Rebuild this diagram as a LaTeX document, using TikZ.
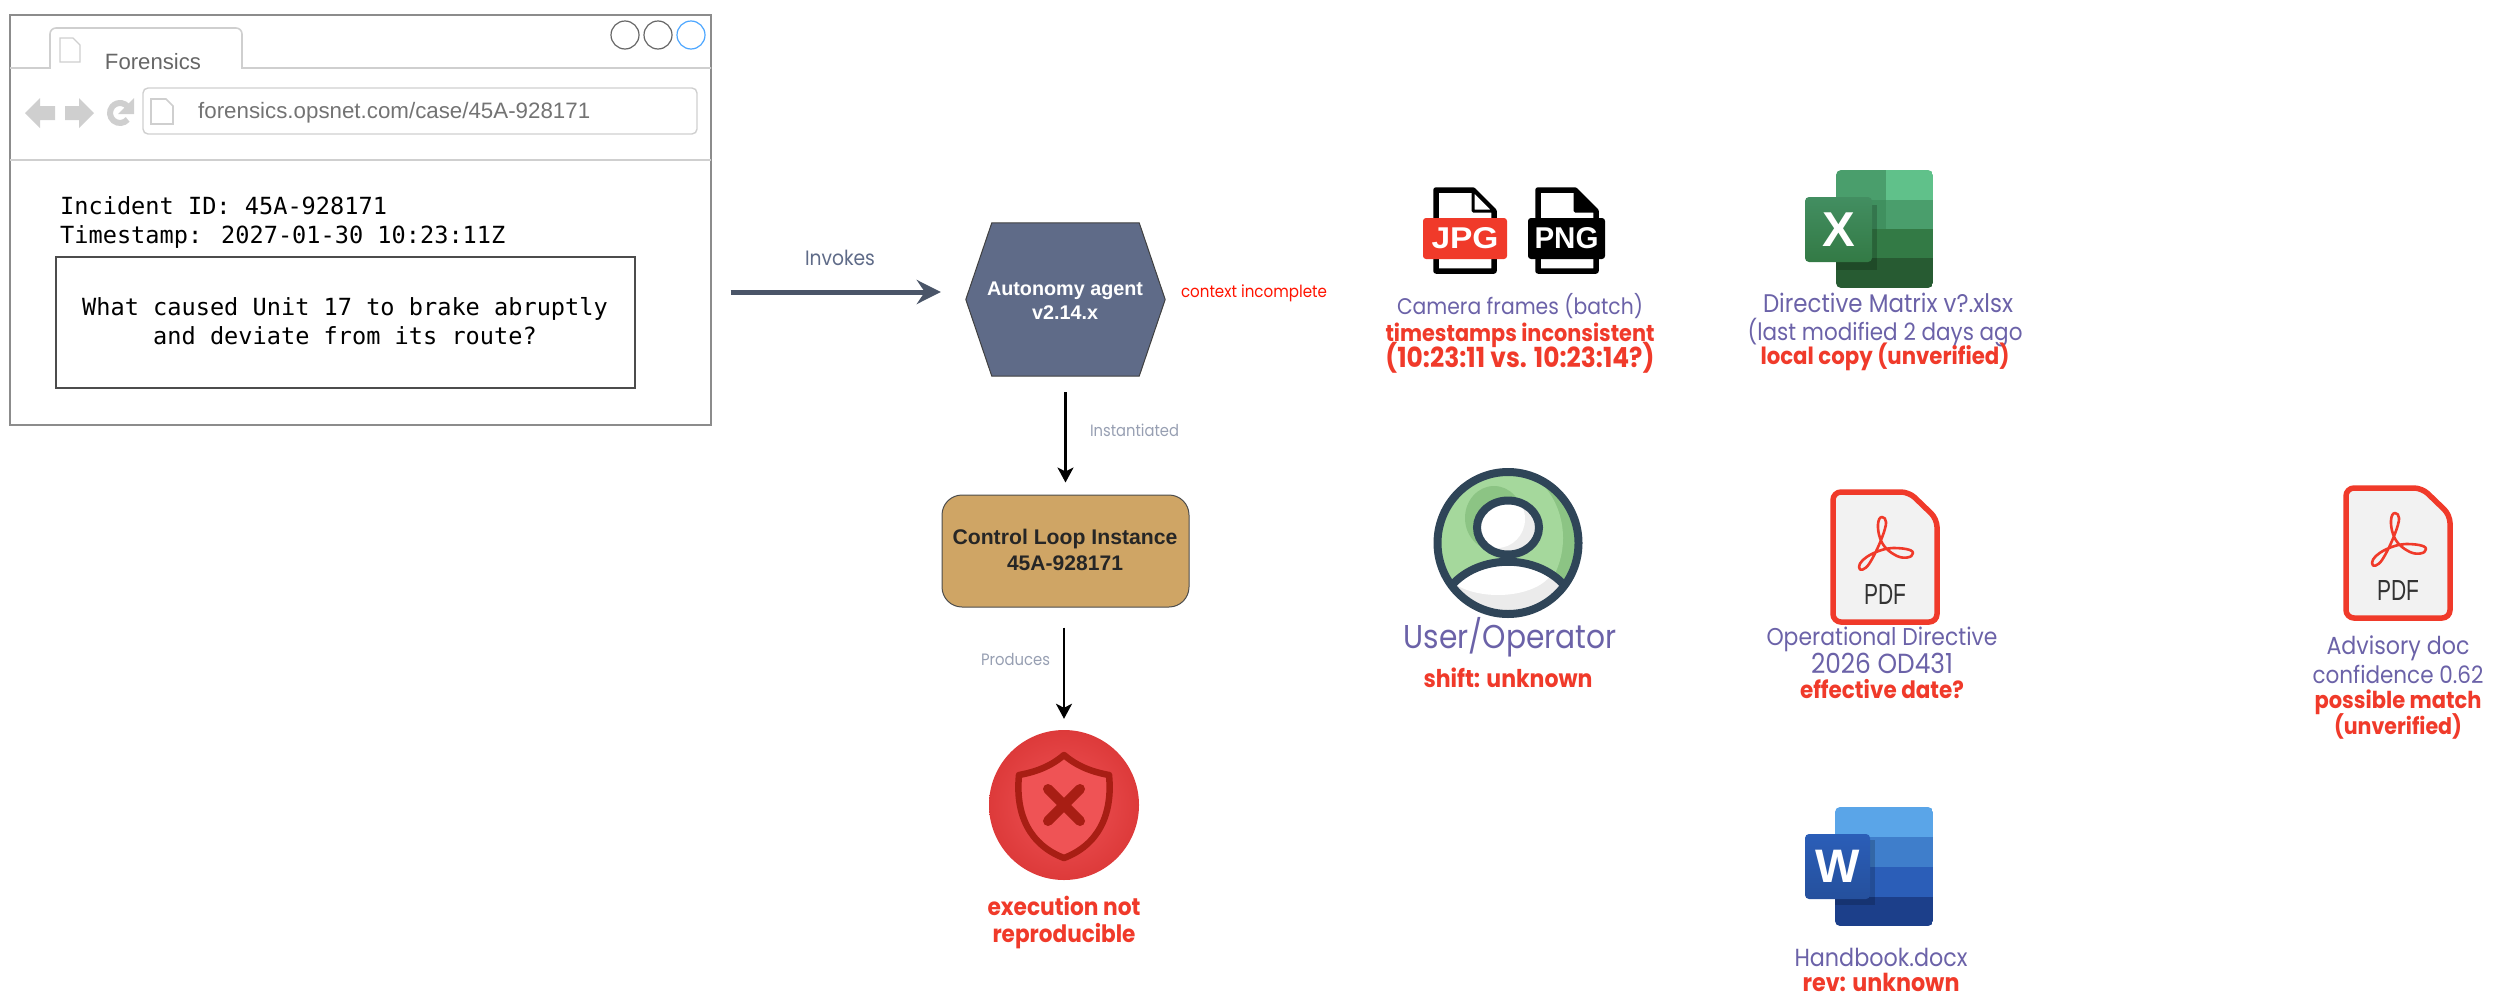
\documentclass[tikz,border=0pt]{standalone}
\usepackage{fontspec}
\setmainfont{Liberation Sans}
\newfontfamily\fut[FakeStretch=0.9]{Poppins}
\newfontfamily\monof{DejaVu Sans Mono}
\usetikzlibrary{arrows.meta,calc}
\definecolor{purp}{HTML}{6B62A8}
\definecolor{redt}{HTML}{F03A2A}
\definecolor{slate}{HTML}{5F6B88}
\definecolor{greyl}{HTML}{CFCFCF}
\definecolor{greyb}{HTML}{8C8C8C}
\definecolor{darku}{HTML}{2F4558}
\definecolor{ctrlc}{HTML}{CFA565}
\definecolor{riski}{HTML}{F05558}
\definecolor{risko}{HTML}{DD3A3A}
\definecolor{shd}{HTML}{A81E14}
\definecolor{shf}{HTML}{EF5355}
\definecolor{invc}{HTML}{4A5568}
\definecolor{xa}{HTML}{4A9E6C}
\definecolor{xb}{HTML}{60C18A}
\definecolor{xc}{HTML}{40905F}
\definecolor{xd}{HTML}{337A45}
\definecolor{xe}{HTML}{275B32}
\definecolor{ug1}{HTML}{A5D89C}
\definecolor{ug2}{HTML}{8CC484}
\definecolor{wa}{HTML}{5AA5E8}
\definecolor{wb}{HTML}{3F7ECB}
\definecolor{wc}{HTML}{2B5EB8}
\definecolor{wd}{HTML}{1C3F8A}
\newcommand{\fw}[2]{\resizebox{#1pt}{!}{#2}}
\newcommand{\px}[1]{\fontsize{#1pt}{#1pt}\selectfont}
\tikzset{
  txt/.style={inner sep=0pt,anchor=base,text=purp},
  rtxt/.style={inner sep=0pt,anchor=base,text=redt},
  mono/.style={inner sep=0pt,anchor=base west,font=\monof\px{23.6}},
  flowarrow/.style={line width=2.6pt,-{Stealth[length=15pt,width=16pt,inset=4pt]}},
  greydoc/.style={draw=greyl,line width=1.6pt,fill=white},
  pics/pdficon/.style={code={
    \draw[draw=redt,line width=5.5pt,fill=black!5,rounded corners=8pt]
      (0,0) -- (76,0) -- (104,27) -- (104,130) -- (0,130) -- cycle;
    \draw[draw=redt,line width=2.6pt,line join=round]
      (49,25) .. controls (44,25) and (44,38) .. (47,46)
      .. controls (50,55) and (56,60) .. (64,64)
      .. controls (70,67) and (80,66) .. (80,61)
      .. controls (80,57) and (68,56) .. (60,56)
      .. controls (48,56) and (26,66) .. (26,75)
      .. controls (26,80) and (32,78) .. (36,72)
      .. controls (44,60) and (54,35) .. (53,30)
      .. controls (53,27) and (51,25) .. (49,25) -- cycle;
    \node[inner sep=0pt,anchor=base,text=black!80] (-label) at (52,112) {\resizebox{42pt}{20pt}{\px{28}PDF}};
  }},
  pics/fileicon/.style={code={
    \draw[line width=5.5pt,line join=round,fill=white]
      (0,0) -- (37,0) -- (58,21) -- (58,81) -- (0,81) -- cycle;
    \filldraw[fill=#1,line width=3pt,line join=round] (37,0) -- (58,21) -- (37,21) -- cycle;
  }}
}
\begin{document}
\begin{tikzpicture}[x=1pt,y=-1pt]
\useasboundingbox (0,0) rectangle (2500,1007);
% ---------- browser
\node[draw=greyb,line width=1.4pt,minimum width=701pt,minimum height=410pt,inner sep=0pt] (browser) at (360.5,220) {};
\draw[greyl,line width=1.6pt] (10,68) -- (50,68) [rounded corners=6pt] -- (50,28) -- (242,28) [sharp corners] -- (242,68) -- (711,68);
\draw[greyl,line width=1.2pt] (10,160) -- (711,160);
\draw[greydoc,line width=1.2pt] (60,38) -- (73,38) -- (80,45) -- (80,62) -- (60,62) -- cycle;
\node[inner sep=0pt,anchor=base,text=black!60] (tabtitle) at (153,69) {\fw{96}{\px{22}Forensics}};
\node[draw=black!60,line width=1.2pt,circle,minimum size=28pt,inner sep=0pt] (c1) at (625,35) {};
\node[draw=black!60,line width=1.2pt,circle,minimum size=28pt,inner sep=0pt] (c2) at (658,35) {};
\node[draw=blue!50!cyan!70,line width=1.2pt,circle,minimum size=28pt,inner sep=0pt] (c3) at (691,35) {};
\fill[greyl] (25,113) -- (40,98) -- (40,106) -- (55,106) -- (55,120) -- (40,120) -- (40,128) -- cycle;
\fill[greyl] (94,113) -- (79,98) -- (79,106) -- (65,106) -- (65,120) -- (79,120) -- (79,128) -- cycle;
\draw[greyl,line width=6pt] (120,113) ++(40:10) arc (40:320:10);
\fill[greyl] (134,98) -- (134,114) -- (118,114) -- cycle;
\node[draw=greyl,line width=1.4pt,rounded corners=5pt,minimum width=554pt,minimum height=46pt,inner sep=0pt] (urlbox) at (420,111) {};
\draw[greydoc] (151,99) -- (166,99) -- (173,106) -- (173,124) -- (151,124) -- cycle;
\node[inner sep=0pt,anchor=base west,text=black!55] (url) at (198,118) {\fw{392}{\px{22}forensics.opsnet.com/case/45A-928171}};
\node[mono] (incident) at (60,214) {Incident ID: 45A-928171};
\node[mono] (stamp) at (60,243) {Timestamp: 2027-01-30 10:23:11Z};
\node[draw=black!70,line width=1.8pt,minimum width=579pt,minimum height=131pt,inner sep=0pt] (qbox) at (345.5,322.5) {};
\node[inner sep=0pt,anchor=base,font=\monof\px{23.6}] (q1) at (345,315) {What caused Unit 17 to brake abruptly};
\node[inner sep=0pt,anchor=base,font=\monof\px{23.6}] (q2) at (345,344) {and deviate from its route?};
% ---------- flow
\coordinate (invy) at (0,292);
\node[minimum width=199pt,minimum height=153pt,inner sep=0pt] (hex) at (1065.5,299.5) {};
\filldraw[draw=black!75,line width=1pt,fill=slate] (hex.west) -- ([xshift=26pt]hex.north west) -- ([xshift=-26pt]hex.north east) -- (hex.east) -- ([xshift=-26pt]hex.south east) -- ([xshift=26pt]hex.south west) -- cycle;
\node[inner sep=0pt,anchor=base,text=white] (hex1) at (1065,295) {\fw{156}{\bfseries\px{20}Autonomy agent}};
\node[inner sep=0pt,anchor=base,text=white] (hex2) at (1065,319) {\fw{66}{\bfseries\px{20}v2.14.x}};
\node[draw=black!70,line width=1pt,fill=ctrlc,minimum width=247pt,minimum height=112pt,rounded corners=20pt,inner sep=0pt] (ctrl) at (1065.5,551) {} ;
\node[inner sep=0pt,anchor=base,text=black!85] (ctrl1) at (1065,544) {\fw{225}{\bfseries\px{22}Control Loop Instance}};
\node[inner sep=0pt,anchor=base,text=black!85] (ctrl2) at (1065,570) {\fw{116}{\bfseries\px{22}45A-928171}};
\node[circle,minimum size=150pt,inner sep=0pt,inner color=riski,outer color=risko] (risk) at (1064,805) {};
\draw[line width=6.5pt,draw=shd,fill=shf,line join=round]
  (1064,755) .. controls (1050,767) and (1035,772) .. (1019,775)
  .. controls (1015,815) and (1030,845) .. (1064,858)
  .. controls (1098,845) and (1113,815) .. (1109,775)
  .. controls (1093,772) and (1078,767) .. (1064,755) -- cycle;
\draw[line width=10pt,draw=shd,line cap=round] (1048,789) -- (1080,821);
\draw[line width=10pt,draw=shd,line cap=round] (1080,789) -- (1048,821);
\node[rtxt] (ex1) at (1064,915) {\fw{153}{\fut\bfseries\px{22}execution not}};
\node[rtxt] (ex2) at (1064,942) {\fw{143}{\fut\bfseries\px{22}reproducible}};
\draw[line width=5pt,draw=invc,-{Stealth[length=24pt,width=24pt,inset=8pt]}]
  ([xshift=19pt]browser.east |- invy) -- ([xshift=-25pt]hex.west |- invy);
\draw[flowarrow] ([yshift=-16pt]hex.south) -- ([yshift=12pt]ctrl.north);
\draw[flowarrow] ($(risk.north |- ctrl.south)+(0,20)$) -- ([yshift=11pt]risk.north);
\node[inner sep=0pt,anchor=base,text=slate] (invokes) at (840,265) {\fw{70}{\fut\px{20}Invokes}};
\node[inner sep=0pt,anchor=base,text=slate!65] (inst) at (1134.5,436) {\fw{89}{\fut\px{17}Instantiated}};
\node[inner sep=0pt,anchor=base,text=slate!65] (prod) at (1015.5,665) {\fw{69}{\fut\px{17}Produces}};
\node[inner sep=0pt,anchor=base,text=red!85!orange] (ctx) at (1254,297) {\fw{146}{\fut\px{17}context incomplete}};
% ---------- camera frames
\pic (jpg) at (1436,190) {fileicon=white};
\node[fill=redt,rounded corners=3pt,minimum width=84pt,minimum height=41pt,inner sep=0pt,text=white] (jpgtag) at (1465,238.5) {\resizebox{67pt}{21pt}{\bfseries\px{30}JPG}};
\pic (png) at (1538,190) {fileicon=black};
\node[fill=black,rounded corners=3pt,minimum width=77pt,minimum height=41pt,inner sep=0pt,text=white] (pngtag) at (1566.5,238.5) {\resizebox{64pt}{21pt}{\bfseries\px{30}PNG}};
\node[txt] (cam1) at (1520,314) {\fw{246}{\fut\px{22}Camera frames (batch)}};
\node[rtxt] (cam2) at (1520,341) {\fw{269}{\fut\bfseries\px{22}timestamps inconsistent}};
\node[rtxt] (cam3) at (1520,367) {\fw{269}{\fut\bfseries\px{22}(10:23:11 vs. 10:23:14?)}};
% ---------- excel
\begin{scope}
\clip[rounded corners=5pt] (1836,170) rectangle (1933,288);
\fill[xa] (1836,170) rectangle (1886,200);
\fill[xb] (1886,170) rectangle (1933,200);
\fill[xc] (1836,200) rectangle (1886,229);
\fill[xa] (1886,200) rectangle (1933,229);
\fill[xd] (1836,229) rectangle (1933,258);
\fill[xe] (1836,258) rectangle (1933,288);
\fill[black,opacity=.18] (1836,205) rectangle (1877,270);
\end{scope}
\shade[rounded corners=4pt,top color=xa!90!black,bottom color=xd] (1805,197) rectangle (1872,262);
\node[inner sep=0pt,text=white] (xlsx) at (1838.5,229.5) {\bfseries\px{49}X};
\node[txt] (dm1) at (1888,312) {\fw{250}{\fut\px{22}Directive Matrix v?.xlsx}};
\node[txt] (dm2) at (1885,340) {\fw{275}{\fut\px{22}(last modified 2 days ago}};
\node[rtxt] (dm3) at (1885,364) {\fw{249}{\fut\bfseries\px{22}local copy (unverified)}};
% ---------- user
\begin{scope}
\clip (1508,543) ellipse [x radius=70.5pt,y radius=71pt];
\fill[ug2] (1430,460) rectangle (1590,625);
\fill[ug1] (1497,538) ellipse [x radius=66pt,y radius=74pt];
\fill[ug2] (1494,518) ellipse [x radius=29pt,y radius=32pt];
\begin{scope}
\clip (1452,585) .. controls (1480,554) and (1536,554) .. (1564,585) -- (1582,640) -- (1434,640) -- cycle;
\fill[black!8] (1430,540) rectangle (1590,640);
\fill[white] (1498,565) ellipse [x radius=56pt,y radius=30pt];
\end{scope}
\draw[darku,line width=8pt] (1446,592) -- (1452,585) .. controls (1480,554) and (1536,554) .. (1564,585) -- (1570,592);
\end{scope}
\draw[darku,line width=8pt] (1508,543) ellipse [x radius=70.5pt,y radius=71pt];
\fill[black!7] (1508,527.5) ellipse [x radius=31pt,y radius=27pt];
\begin{scope}
\clip (1508,527.5) ellipse [x radius=31pt,y radius=27pt];
\fill[white] (1497,519) ellipse [x radius=28pt,y radius=29pt];
\end{scope}
\draw[darku,line width=8pt] (1508,527.5) ellipse [x radius=31pt,y radius=27pt];
\node[txt] (user) at (1510,648) {\fw{213}{\fut\px{30}User/Operator}};
\node[rtxt] (shift) at (1508,687) {\fw{169}{\fut\bfseries\px{22}shift: unknown}};
% ---------- pdf icons
\pic (pdfa) at (1833,492) {pdficon};
\node[txt] (od1) at (1882,645) {\fw{231}{\fut\px{22}Operational Directive}};
\node[txt] (od2) at (1882,673) {\fw{142}{\fut\px{22}2026 OD431}};
\node[rtxt] (od3) at (1882,698) {\fw{164}{\fut\bfseries\px{22}effective date?}};
\pic (pdfb) at (2346,488) {pdficon};
\node[txt] (ad1) at (2398,654) {\fw{143}{\fut\px{22}Advisory doc}};
\node[txt] (ad2) at (2398,683) {\fw{171}{\fut\px{22}confidence 0.62}};
\node[rtxt] (ad3) at (2398,708) {\fw{167}{\fut\bfseries\px{22}possible match}};
\node[rtxt] (ad4) at (2398,734) {\fw{128}{\fut\bfseries\px{22}(unverified)}};
% ---------- word
\begin{scope}
\clip[rounded corners=5pt] (1835,807) rectangle (1933,926);
\fill[wa] (1835,807) rectangle (1933,837);
\fill[wb] (1835,837) rectangle (1933,867);
\fill[wc] (1835,867) rectangle (1933,897);
\fill[wd] (1835,897) rectangle (1933,926);
\fill[black,opacity=.18] (1835,840) rectangle (1875,905);
\end{scope}
\shade[rounded corners=4pt,top color=wc,bottom color=wc!85!black] (1805,834) rectangle (1870,899);
\node[inner sep=0pt,text=white] (docx) at (1837.5,866.5) {\bfseries\px{47}W};
\node[txt] (hb) at (1881,966) {\fw{173}{\fut\px{22}Handbook.docx}};
\node[rtxt] (rev) at (1881,991) {\fw{157}{\fut\bfseries\px{22}rev: unknown}};
\end{tikzpicture}
\end{document}
